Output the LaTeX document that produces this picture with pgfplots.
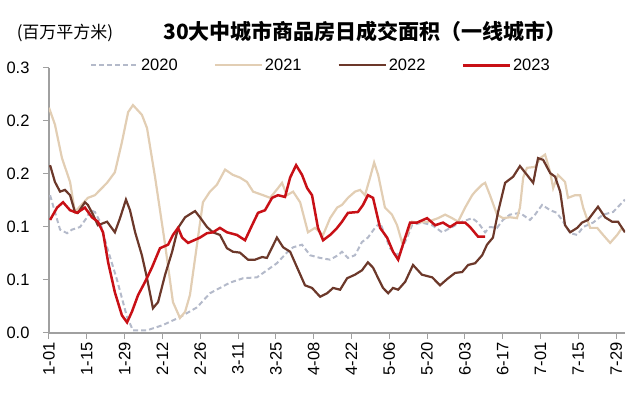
\documentclass[border=0pt]{standalone}
\usepackage{fontspec}
\setmainfont{Liberation Sans}
\newfontfamily\cjk{Noto Sans CJK SC}
\usepackage{pgfplots}
\pgfplotsset{compat=1.18}
\definecolor{c20}{RGB}{180,186,202}
\definecolor{c21}{RGB}{226,206,180}
\definecolor{c22}{RGB}{108,56,42}
\definecolor{c23}{RGB}{200,16,22}
\definecolor{axg}{RGB}{160,160,160}
\begin{document}
\begin{tikzpicture}
\useasboundingbox (-49pt,-65pt) rectangle (591pt,333pt);
\begin{axis}[
 at={(0,0)}, anchor=south west,
 width=576pt, height=265pt, scale only axis,
 xmin=0, xmax=213.3, ymin=0, ymax=0.3,
 axis x line*=bottom, axis y line*=left,
 axis line style={axg, line width=1.2pt, -},
 xtick={0,14,28,42,56,70,84,98,112,126,140,154,168,182,196,210},
 xticklabels={1-01,1-15,1-29,2-12,2-26,3-11,3-25,4-08,4-22,5-06,5-20,6-03,6-17,7-01,7-15,7-29},
 x tick label style={rotate=90, anchor=east},
 ytick={0,0.06,0.12,0.18,0.24,0.3},
 scaled y ticks=false,
 yticklabel style={/pgf/number format/fixed, /pgf/number format/fixed zerofill, /pgf/number format/precision=1, xshift=-10pt},
 /pgf/number format/assume math mode=true,
 tick style={axg, line width=1pt}, tick align=outside, major tick length=6pt,
 ticklabel style={font=\fontsize{16.5}{18}\selectfont},
 legend columns=4,
 legend style={at={(0.472,1.01)}, anchor=center, draw=none, fill=none,
   font=\fontsize{16.5}{18}\selectfont,
   /tikz/every even column/.append style={column sep=34pt}},
 legend image code/.code={\draw[#1] (0pt,0pt) -- (47pt,0pt);},
]
\addplot[c20, line width=2pt, dash pattern=on 5pt off 3pt] coordinates {
(0.4,0.156)(2.2,0.137)(4.1,0.117)(6.7,0.113)(8.5,0.117)(11.5,0.120)(14.1,0.131)(15.2,0.139)(17.0,0.137)(18.9,0.126)(21.5,0.097)(25.2,0.060)(28.9,0.018)(31.1,0.003)(36.3,0.003)(42.2,0.009)(48.5,0.018)(54.8,0.029)(59.6,0.045)(63.3,0.051)(67.0,0.057)(71.9,0.062)(77.0,0.063)(80.7,0.071)(84.4,0.079)(88.1,0.091)(90.4,0.097)(93.7,0.100)(96.7,0.088)(100.4,0.085)(104.1,0.083)(107.0,0.088)(108.5,0.092)(110.7,0.085)(113.3,0.088)(115.9,0.103)(118.1,0.108)(120.7,0.119)(122.6,0.125)(124.4,0.111)(126.3,0.096)(128.9,0.088)(130.7,0.096)(132.6,0.108)(134.4,0.122)(138.1,0.125)(141.9,0.122)(145.6,0.114)(149.3,0.120)(153.0,0.126)(156.7,0.130)(158.9,0.125)(161.5,0.114)(163.3,0.120)(165.9,0.119)(168.1,0.128)(170.7,0.134)(174.4,0.136)(178.1,0.128)(180.0,0.134)(182.6,0.145)(185.6,0.139)(188.1,0.136)(190.4,0.126)(193.0,0.113)(195.6,0.111)(197.8,0.120)(201.5,0.125)(205.2,0.134)(208.9,0.137)(213.3,0.151)
};
\addlegendentry{2020}
\addplot[c21, line width=2.2pt] coordinates {
(0,0.255)(2.2,0.236)(4.8,0.198)(7.8,0.171)(9.6,0.137)(14.4,0.153)(17.0,0.156)(21.5,0.170)(24.4,0.182)(27.0,0.216)(29.3,0.250)(31.1,0.258)(34.4,0.247)(36.3,0.232)(39.3,0.176)(43.0,0.100)(45.9,0.035)(48.5,0.017)(50.4,0.024)(52.2,0.043)(54.8,0.100)(57.0,0.148)(59.6,0.160)(62.2,0.168)(65.2,0.185)(68.1,0.179)(70.7,0.176)(73.3,0.171)(75.6,0.160)(79.3,0.156)(81.9,0.153)(84.8,0.164)(86.3,0.170)(88.1,0.156)(90.4,0.160)(93.0,0.148)(95.9,0.114)(98.5,0.119)(101.5,0.111)(104.1,0.130)(106.7,0.142)(108.5,0.145)(110.7,0.153)(113.3,0.160)(115.2,0.162)(117.0,0.156)(118.9,0.176)(120.4,0.193)(121.9,0.179)(124.4,0.142)(127.0,0.134)(128.9,0.122)(130.7,0.103)(132.6,0.111)(134.4,0.126)(136.7,0.125)(140.4,0.126)(144.1,0.130)(146.7,0.134)(149.3,0.130)(151.5,0.126)(154.1,0.142)(156.7,0.156)(157.8,0.160)(160.4,0.168)(161.5,0.170)(163.3,0.156)(165.9,0.134)(168.1,0.130)(170.7,0.131)(173.3,0.130)(174.4,0.142)(175.6,0.176)(177.0,0.187)(180.0,0.188)(181.9,0.198)(183.7,0.202)(185.6,0.182)(186.7,0.164)(188.5,0.179)(191.1,0.171)(192.2,0.153)(194.8,0.156)(196.7,0.156)(197.8,0.142)(200.4,0.119)(203.0,0.119)(205.2,0.111)(207.8,0.102)(210.4,0.111)(212.2,0.119)
};
\addlegendentry{2021}
\addplot[c22, line width=2.2pt] coordinates {
(0.4,0.190)(2.2,0.171)(4.1,0.160)(5.9,0.162)(7.8,0.156)(9.6,0.137)(10.7,0.136)(13.3,0.148)(14.4,0.145)(16.3,0.134)(18.1,0.122)(21.5,0.126)(24.4,0.114)(26.3,0.130)(28.5,0.151)(30.0,0.139)(31.9,0.114)(34.4,0.088)(36.3,0.062)(38.5,0.028)(40.4,0.035)(43.0,0.066)(45.6,0.092)(47.8,0.119)(50.4,0.131)(53.0,0.136)(54.1,0.138)(55.9,0.131)(58.5,0.120)(60.7,0.114)(63.3,0.111)(65.9,0.096)(68.1,0.092)(70.7,0.091)(73.7,0.083)(76.3,0.083)(78.9,0.086)(80.7,0.085)(84.4,0.108)(86.7,0.097)(89.3,0.092)(91.9,0.074)(94.8,0.054)(97.4,0.051)(100.4,0.041)(103.0,0.045)(105.2,0.051)(107.8,0.049)(110.4,0.062)(113.3,0.066)(115.9,0.071)(118.1,0.080)(120.0,0.074)(121.9,0.062)(123.7,0.051)(125.6,0.045)(127.4,0.051)(129.3,0.049)(131.9,0.058)(134.8,0.077)(138.1,0.066)(141.9,0.063)(144.8,0.054)(147.8,0.062)(150.4,0.068)(153.0,0.069)(155.2,0.077)(157.8,0.079)(160.4,0.088)(162.2,0.100)(164.4,0.108)(166.3,0.137)(168.9,0.170)(171.9,0.177)(174.4,0.189)(177.0,0.179)(179.3,0.170)(181.1,0.198)(183.0,0.196)(185.6,0.181)(187.4,0.177)(189.3,0.160)(191.1,0.122)(193.0,0.114)(195.6,0.119)(197.4,0.125)(199.6,0.128)(203.3,0.143)(205.9,0.131)(208.5,0.126)(210.7,0.126)(213.3,0.114)
};
\addlegendentry{2022}
\addplot[c23, line width=2.5pt] coordinates {
(0.4,0.128)(3.0,0.142)(5.2,0.148)(7.8,0.139)(10.4,0.136)(13.3,0.142)(15.9,0.131)(18.1,0.126)(20.0,0.114)(21.9,0.080)(24.4,0.046)(27.0,0.020)(28.9,0.012)(30.7,0.024)(33.0,0.043)(35.6,0.058)(38.1,0.074)(41.1,0.096)(44.1,0.100)(45.9,0.111)(47.8,0.119)(49.3,0.108)(51.5,0.102)(55.9,0.108)(58.5,0.113)(60.7,0.114)(63.3,0.119)(65.9,0.114)(69.6,0.111)(72.6,0.105)(75.2,0.122)(77.4,0.136)(80.0,0.139)(82.6,0.153)(84.8,0.156)(87.4,0.154)(89.3,0.176)(91.5,0.190)(93.7,0.179)(95.6,0.164)(97.4,0.156)(99.6,0.119)(101.5,0.105)(104.1,0.111)(106.7,0.119)(108.5,0.126)(110.7,0.136)(114.4,0.137)(116.3,0.145)(118.1,0.156)(120.0,0.153)(122.6,0.119)(125.2,0.108)(127.4,0.092)(129.3,0.083)(131.9,0.108)(133.7,0.125)(136.3,0.125)(140.0,0.130)(143.0,0.122)(145.9,0.125)(148.5,0.120)(151.1,0.125)(154.1,0.125)(155.9,0.120)(158.9,0.109)(161.5,0.109)
};
\addlegendentry{2023}
\end{axis}
\node[font=\cjk\bfseries\fontsize{21}{24}\selectfont] at (316pt,301pt) {30大中城市商品房日成交面积（一线城市）};
\node[font=\cjk\fontsize{17}{20}\selectfont] at (16pt,300pt) {(百万平方米)};
\end{tikzpicture}
\end{document}
